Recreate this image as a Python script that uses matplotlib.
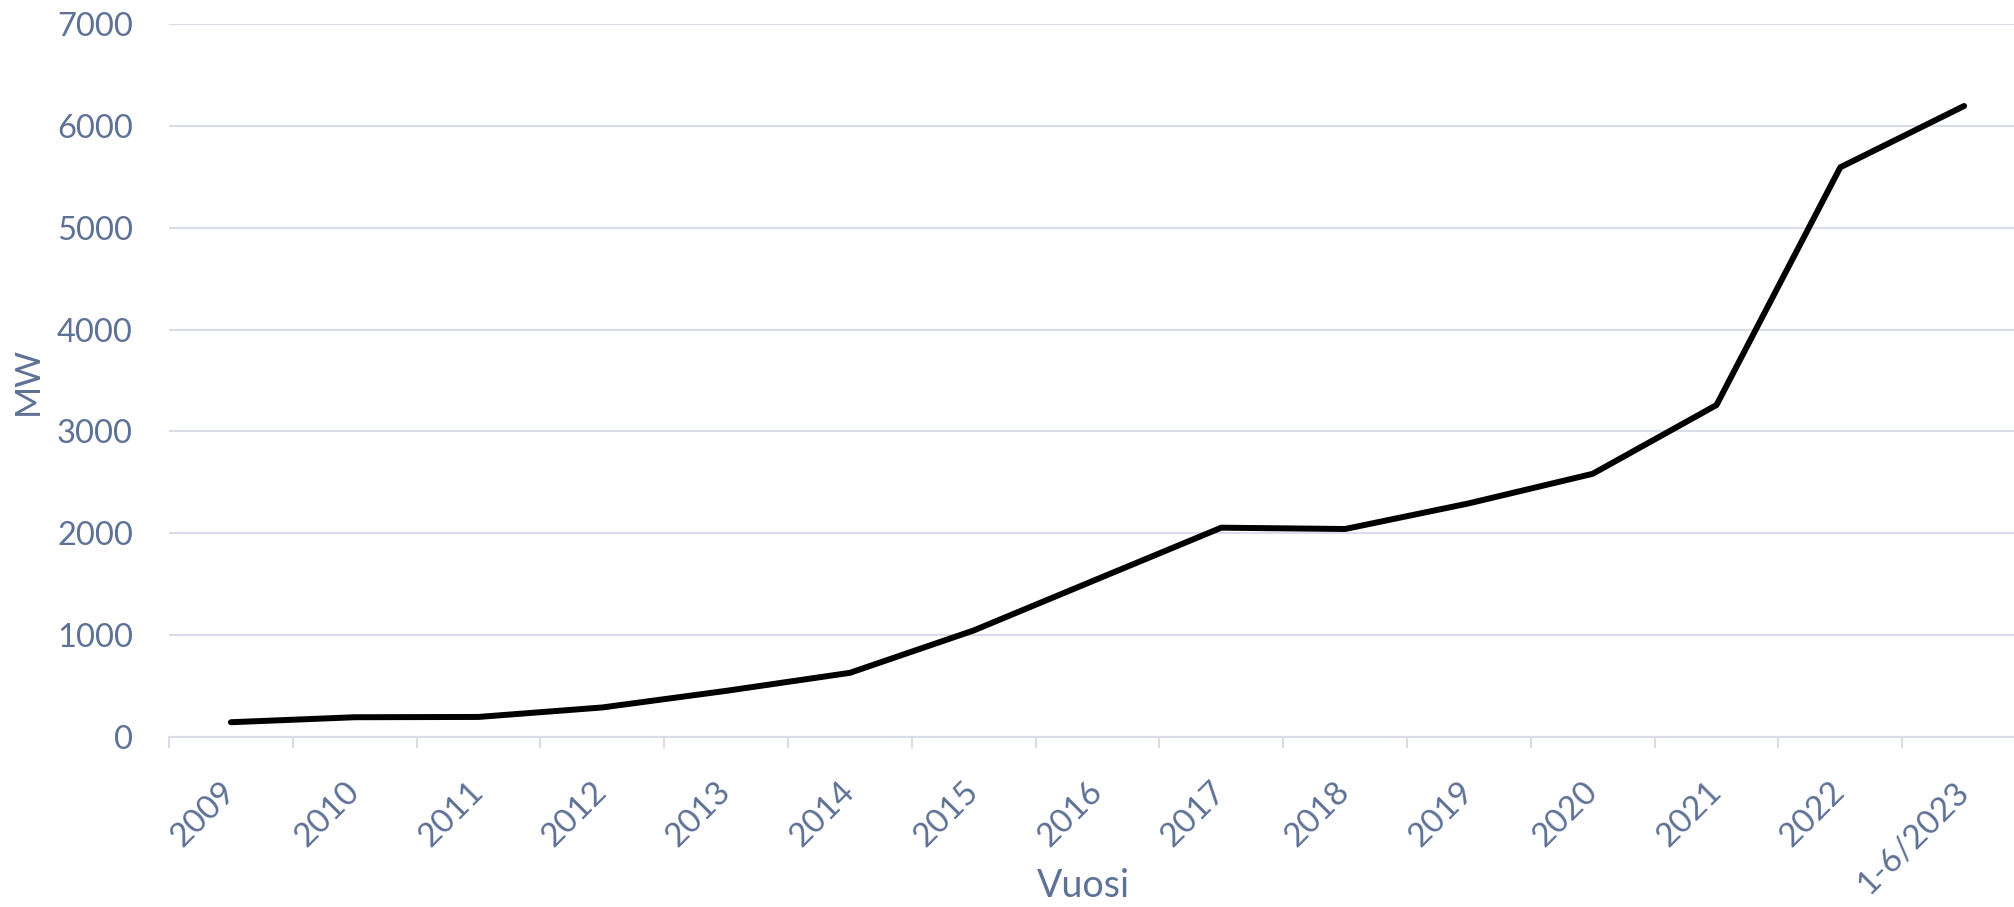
import matplotlib
matplotlib.use('Agg')
import matplotlib.pyplot as plt
import numpy as np

# data
vuodet = ['2009', '2010', '2011', '2012', '2013', '2014', '2015', '2016',
          '2017', '2018', '2019', '2020', '2021', '2022', '1-6/2023']
mw = [145, 194, 197, 290, 453, 630, 1046, 1551, 2055, 2042, 2294, 2584, 3259, 5593, 6195]

text_col = '#5E7196'
grid_col = '#DADDE7'

plt.rcParams['font.family'] = ['Lato', 'DejaVu Sans']

W, H = 2014, 907
fig = plt.figure(figsize=(W / 100, H / 100), dpi=100)
ax = fig.add_axes([169 / W, 1 - 737 / H, (2026 - 169) / W, (737 - 24) / H])

x = np.arange(len(vuodet))
ax.plot(x, mw, color='black', linewidth=4.3, solid_capstyle='round', solid_joinstyle='round', zorder=3)

ax.set_xlim(-0.5, len(vuodet) - 0.5)
ax.set_ylim(0, 7000)
ax.set_yticks(np.arange(0, 7001, 1000))
ax.yaxis.grid(True, color=grid_col, linewidth=1.5)
ax.set_axisbelow(True)

# category boundaries get tick marks, labels sit at the centres
ax.set_xticks(np.arange(-0.5, len(vuodet), 1.0))
ax.set_xticklabels([])
ax.set_xticks(x, minor=True)
ax.set_xticklabels(vuodet, minor=True, rotation=45, ha='right', va='center',
                   rotation_mode='anchor')
ax.tick_params(axis='x', which='major', length=8, width=1.5, color=grid_col)
ax.tick_params(axis='x', which='minor', length=0, pad=36, labelsize=24, labelcolor=text_col)
ax.tick_params(axis='y', length=0, pad=26, labelsize=23.5, labelcolor=text_col)

for s in ['top', 'right', 'left']:
    ax.spines[s].set_visible(False)
ax.spines['bottom'].set_color(grid_col)
ax.spines['bottom'].set_linewidth(1.5)

fig.text(28 / W, 0.5 * ((1 - 737 / H) + (1 - 24 / H)), 'MW', rotation=90, fontsize=25,
         color=text_col, ha='center', va='center')
fig.text(1083 / W, 1 - 886 / H, 'Vuosi', fontsize=27, color=text_col, ha='center', va='center')

fig.savefig('out.png', dpi=100)
